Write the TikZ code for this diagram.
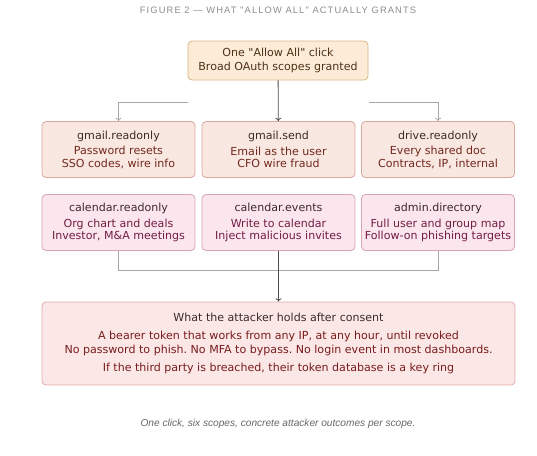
\documentclass[tikz,border=0pt]{standalone}
\usepackage{fontspec}
\newfontfamily\boxfont{DejaVu Sans}
\newfontfamily\headfont[LetterSpace=12]{Liberation Sans}
\newfontfamily\notefont{Liberation Sans}
\usetikzlibrary{arrows.meta}
\frenchspacing

\definecolor{clickfill}{HTML}{FCEBD6}
\definecolor{clickline}{HTML}{D9B48A}
\definecolor{clicktext}{HTML}{4E321A}
\definecolor{mailfill}{HTML}{F9E7E2}
\definecolor{mailline}{HTML}{D9A99D}
\definecolor{mailtext}{HTML}{72291E}
\definecolor{calfill}{HTML}{FBE6ED}
\definecolor{calline}{HTML}{D8A3B5}
\definecolor{caltext}{HTML}{721D43}
\definecolor{holdfill}{HTML}{FCE7E7}
\definecolor{holdline}{HTML}{E0AAAA}
\definecolor{holdtext}{HTML}{781C1C}
\definecolor{headtext}{HTML}{3B2A2A}

\begin{document}
\begin{tikzpicture}[x=0.75pt, y=-0.75pt,
  box/.style={draw, rounded corners=3pt, line width=0.6pt, align=center,
    inner sep=0pt, font=\boxfont\fontsize{8.3}{9.2}\selectfont},
  scopebox/.style={box, minimum width=114.75pt, minimum height=42pt},
  mailbox/.style={scopebox, fill=mailfill, draw=mailline, text=mailtext},
  calbox/.style={scopebox, fill=calfill, draw=calline, text=caltext},
  link/.style={draw=black!35, line width=0.6pt},
  flow/.style={draw=black!70, line width=0.6pt},
  tip/.style={-{To[length=2.5pt, width=4.5pt]}}]
  \useasboundingbox (0,0) rectangle (537,455);

  \node[text=black!45, font=\headfont\fontsize{7}{8}\selectfont] (fig) at (278,10)
    {FIGURE 2 — WHAT "ALLOW ALL" ACTUALLY GRANTS};

  \node[box, fill=clickfill, draw=clickline, text=clicktext,
    minimum width=135pt, minimum height=29.25pt,
    font=\boxfont\fontsize{8.3}{10.5}\selectfont] (click) at (278,60.5)
    {One "Allow All" click\\ Broad OAuth scopes granted};

  % first row: mail and drive
  \node[mailbox] (gread) at (118.5,149.5)
    {\textcolor{headtext}{gmail.readonly}\\[2.5pt] Password resets\\ SSO codes, wire info};
  \node[mailbox] (gsend) at (278.5,149.5)
    {\textcolor{headtext}{gmail.send}\\[2.5pt] Email as the user\\ CFO wire fraud};
  \node[mailbox] (dread) at (438,149.5)
    {\textcolor{headtext}{drive.readonly}\\[2.5pt] Every shared doc\\ Contracts, IP, internal};

  % second row: calendar and directory
  \node[calbox] (cread) at (118.5,222.5)
    {\textcolor{headtext}{calendar.readonly}\\[2.5pt] Org chart and deals\\ Investor, M\&A meetings};
  \node[calbox] (cevents) at (278.5,222.5)
    {\textcolor{headtext}{calendar.events}\\[2.5pt] Write to calendar\\ Inject malicious invites};
  \node[calbox] (adir) at (438,222.5)
    {\textcolor{headtext}{admin.directory}\\[2.5pt] Full user and group map\\ Follow-on phishing targets};

  \node[box, fill=holdfill, draw=holdline, text=holdtext,
    minimum width=354.75pt, minimum height=62.25pt,
    font=\boxfont\fontsize{8.3}{10.5}\selectfont] (holds) at (278.5,343.5)
    {\textcolor{headtext}{What the attacker holds after consent}\\[3pt]
     A bearer token that works from any IP, at any hour, until revoked\\
     No password to phish. No MFA to bypass. No login event in most dashboards.\\[2.5pt]
     If the third party is breached, their token database is a key ring};

  \node[text=black!60, font=\notefont\itshape\fontsize{7.6}{8}\selectfont] (note) at (278,424)
    {One click, six scopes, concrete attacker outcomes per scope.};

  % fan out from the click
  \coordinate (splitL) at (188,102);
  \coordinate (splitR) at (369,102);
  \coordinate (merge) at (278.5,270);
  \draw[flow, tip] (click) -- (gsend);
  \draw[link, tip] (splitL) -| (gread);
  \draw[link, tip] (splitR) -| (dread);

  % gather into the outcome
  \draw[link] (cread) |- (merge);
  \draw[link] (adir) |- (merge);
  \draw[flow, tip] (cevents) -- (holds);
\end{tikzpicture}
\end{document}
